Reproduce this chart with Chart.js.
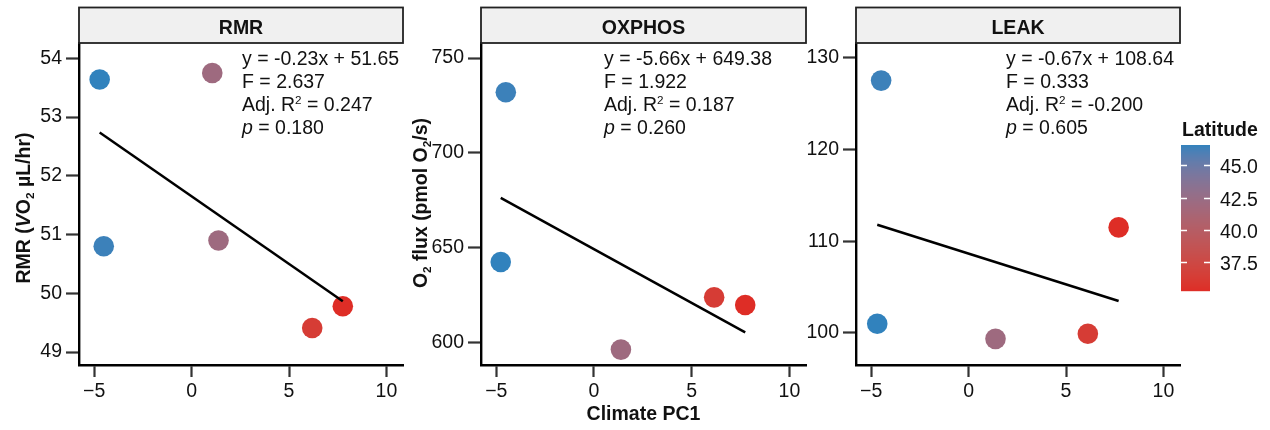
<!DOCTYPE html>
<html>
<head>
<meta charset="utf-8">
<script src="https://cdn.jsdelivr.net/npm/chart.js@4.4.0/dist/chart.umd.min.js"></script>
<style>
  body { margin: 0; background: #fff; }
  #wrap { position: relative; width: 1270px; height: 430px; }
  #wrap canvas { position: absolute; left: 0; top: 0; }
</style>
</head>
<body>
<div id="wrap">
  <canvas id="c1" width="1270" height="430"></canvas>
  <canvas id="c2" width="1270" height="430"></canvas>
  <canvas id="c3" width="1270" height="430"></canvas>
  <canvas id="legend" width="1270" height="430"></canvas>
</div>
<script>
// ---- data ----
const panelNames = ['RMR', 'OXPHOS', 'LEAK'];

const rmrX = [-4.72, -4.51, 1.06, 1.38, 6.19, 7.76];
const rmrY = [53.64, 50.80, 53.75, 50.90, 49.41, 49.78];
const rmrLat = [46.6, 46.4, 42.0, 42.0, 36.3, 35.2];

const oxphosX = [-4.51, -4.77, 1.38, 6.15, 7.74];
const oxphosY = [732.0, 642.6, 596.5, 624.0, 620.0];
const oxphosLat = [46.4, 46.6, 42.0, 36.3, 35.2];

const leakX = [-4.49, -4.69, 1.38, 6.12, 7.70];
const leakY = [127.5, 101.0, 99.35, 99.9, 111.5];
const leakLat = [46.4, 46.6, 42.0, 36.3, 35.2];

// regression stats printed on each panel
const slopes = [-0.23, -5.66, -0.67];
const intercepts = [51.65, 649.38, 108.64];
const fStats = ['2.637', '1.922', '0.333'];
const adjR2 = ['0.247', '0.187', '-0.200'];
const pValues = ['0.180', '0.260', '0.605'];

// axis ticks
const xTicks = [-5, 0, 5, 10];
const rmrTicks = [49, 50, 51, 52, 53, 54];
const oxphosTicks = [600, 650, 700, 750];
const leakTicks = [100, 110, 120, 130];
const latTicks = [37.5, 40.0, 42.5, 45.0];

// ---- colour scale (ggplot-style Lab gradient) ----
const LOW = '#de2d26', HIGH = '#3182bd';
const allLat = rmrLat.concat(oxphosLat, leakLat);
const latMin = Math.min(...allLat), latMax = Math.max(...allLat);

function hexToRgb(h) {
    return [1, 3, 5].map(i => parseInt(h.substr(i, 2), 16));
}
function rgbToLab(rgb) {
    const lin = rgb.map(c => { c /= 255; return c <= 0.04045 ? c / 12.92 : Math.pow((c + 0.055) / 1.055, 2.4); });
    const X = (0.4124 * lin[0] + 0.3576 * lin[1] + 0.1805 * lin[2]) / 0.95047;
    const Y = 0.2126 * lin[0] + 0.7152 * lin[1] + 0.0722 * lin[2];
    const Z = (0.0193 * lin[0] + 0.1192 * lin[1] + 0.9505 * lin[2]) / 1.08883;
    const f = t => t > 0.008856 ? Math.cbrt(t) : 7.787 * t + 16 / 116;
    return [116 * f(Y) - 16, 500 * (f(X) - f(Y)), 200 * (f(Y) - f(Z))];
}
function labToRgb(lab) {
    const fy = (lab[0] + 16) / 116, fx = fy + lab[1] / 500, fz = fy - lab[2] / 200;
    const inv = t => t > 0.206893 ? t * t * t : (t - 16 / 116) / 7.787;
    const X = inv(fx) * 0.95047, Y = inv(fy), Z = inv(fz) * 1.08883;
    const r = 3.2406 * X - 1.5372 * Y - 0.4986 * Z;
    const g = -0.9689 * X + 1.8758 * Y + 0.0415 * Z;
    const b = 0.0557 * X - 0.2040 * Y + 1.0570 * Z;
    return [r, g, b].map(c => {
        c = c <= 0.0031308 ? 12.92 * c : 1.055 * Math.pow(c, 1 / 2.4) - 0.055;
        return Math.round(Math.max(0, Math.min(1, c)) * 255);
    });
}
const labLow = rgbToLab(hexToRgb(LOW)), labHigh = rgbToLab(hexToRgb(HIGH));
function latColor(lat) {
    const t = (lat - latMin) / (latMax - latMin);
    const c = labToRgb(labLow.map((v, i) => v + (labHigh[i] - v) * t));
    return `rgb(${c[0]},${c[1]},${c[2]})`;
}

// ---- drawing helpers ----
const FONT = "'Liberation Sans', Arial, Helvetica, sans-serif";
const SIZE = 19.5;
const INK = '#111';

function drawRich(ctx, segs, x, y, size, bold, align) {
    const fontFor = s => {
        const sz = (s.sup || s.sub) ? size * 0.6 : size;
        return (s.italic ? 'italic ' : '') + (bold ? 'bold ' : '') + sz + 'px ' + FONT;
    };
    let w = 0;
    segs.forEach(s => { ctx.font = fontFor(s); s.w = ctx.measureText(s.t).width; w += s.w; });
    let cx = align === 'center' ? x - w / 2 : x;
    ctx.textAlign = 'left';
    ctx.textBaseline = 'alphabetic';
    segs.forEach(s => {
        ctx.font = fontFor(s);
        const dy = s.sup ? -size * 0.36 : s.sub ? size * 0.22 : 0;
        ctx.fillText(s.t, cx, y + dy);
        cx += s.w;
    });
}

function statLines(i) {
    const sign = intercepts[i] < 0 ? ' - ' : ' + ';
    return [
        [{ t: `y = ${slopes[i].toFixed(2)}x${sign}${Math.abs(intercepts[i]).toFixed(2)}` }],
        [{ t: `F = ${fStats[i]}` }],
        [{ t: 'Adj. R' }, { t: '2', sup: true }, { t: ' = ' + adjR2[i] }],
        [{ t: 'p', italic: true }, { t: ' = ' + pValues[i] }]
    ];
}

const yTitles = [
    [{ t: 'RMR (' }, { t: 'V', italic: true }, { t: 'O' }, { t: '2', sub: true }, { t: ' \u00b5L/hr)' }],
    [{ t: 'O' }, { t: '2', sub: true }, { t: ' flux (pmol O' }, { t: '2', sub: true }, { t: '/s)' }],
    null
];

// ---- panel layout ----
const panels = [
    { canvas: 'c1', x: rmrX, y: rmrY, lat: rmrLat, ticks: rmrTicks, ymin: 48.78, ymax: 54.26,
      left: 79, right: 403, statX: 242, titleX: 29.5, titleY: 208 },
    { canvas: 'c2', x: oxphosX, y: oxphosY, lat: oxphosLat, ticks: oxphosTicks, ymin: 588.4, ymax: 757.9,
      left: 481, right: 806, statX: 604, titleX: 427, titleY: 203 },
    { canvas: 'c3', x: leakX, y: leakY, lat: leakLat, ticks: leakTicks, ymin: 96.5, ymax: 131.6,
      left: 856, right: 1180, statX: 1006, titleX: 0, titleY: 0 }
];
const TOP = 43, BOTTOM = 365, STRIP_TOP = 7.5, Y_AXIS_W = 60;

function makeDecor(i) {
    return {
        id: 'decor' + i,
        afterDraw(chart) {
            const ctx = chart.ctx, a = chart.chartArea;
            ctx.save();
            // facet strip
            ctx.fillStyle = '#f0f0f0';
            ctx.fillRect(a.left, STRIP_TOP, a.right - a.left, TOP - STRIP_TOP);
            ctx.strokeStyle = '#222';
            ctx.lineWidth = 1.8;
            ctx.strokeRect(a.left, STRIP_TOP, a.right - a.left, TOP - STRIP_TOP);
            ctx.fillStyle = INK;
            drawRich(ctx, [{ t: panelNames[i] }], (a.left + a.right) / 2, 33.5, SIZE, true, 'center');

            // regression stats
            statLines(i).forEach((line, k) => {
                drawRich(ctx, line, panels[i].statX, 65 + k * 23, SIZE, false, 'left');
            });

            // y-axis title
            if (yTitles[i]) {
                ctx.save();
                ctx.translate(panels[i].titleX, panels[i].titleY);
                ctx.rotate(-Math.PI / 2);
                drawRich(ctx, yTitles[i], 0, 0, SIZE, true, 'center');
                ctx.restore();
            }
            // shared x-axis title under the middle panel
            if (i === 1) {
                drawRich(ctx, [{ t: 'Climate PC1' }], (a.left + a.right) / 2, 420, SIZE, true, 'center');
            }
            ctx.restore();
        }
    };
}

function fmtX(v) {
    return v < 0 ? '\u2212' + Math.abs(v) : String(v);
}

panels.forEach((p, i) => {
    const pts = p.x.map((x, k) => ({ x: x, y: p.y[k] }));
    const x0 = Math.min(...p.x), x1 = Math.max(...p.x);
    const fit = [x0, x1].map(x => ({ x: x, y: slopes[i] * x + intercepts[i] }));

    new Chart(document.getElementById(p.canvas).getContext('2d'), {
        type: 'scatter',
        data: {
            datasets: [
                {
                    type: 'line',
                    data: fit,
                    borderColor: '#000',
                    borderWidth: 2.5,
                    pointRadius: 0,
                    fill: false,
                    order: 0
                },
                {
                    data: pts,
                    backgroundColor: p.lat.map(latColor),
                    pointRadius: 10.3,
                    borderWidth: 0,
                    order: 1
                }
            ]
        },
        options: {
            responsive: false,
            animation: false,
            devicePixelRatio: 1,
            layout: {
                padding: { left: p.left - Y_AXIS_W, right: 1270 - p.right, top: TOP, bottom: 0 }
            },
            plugins: {
                legend: { display: false },
                tooltip: { enabled: false }
            },
            scales: {
                x: {
                    type: 'linear',
                    min: -5.78,
                    max: 10.85,
                    afterBuildTicks: s => { s.ticks = xTicks.map(v => ({ value: v })); },
                    afterFit: s => { s.height = 430 - BOTTOM; },
                    ticks: {
                        callback: v => fmtX(v),
                        color: INK,
                        padding: 3,
                        maxRotation: 0,
                        font: { family: FONT, size: SIZE }
                    },
                    grid: {
                        drawOnChartArea: false,
                        tickLength: 12,
                        tickWidth: 2.2,
                        tickColor: '#333'
                    },
                    border: { display: true, color: '#000', width: 2.4 }
                },
                y: {
                    type: 'linear',
                    min: p.ymin,
                    max: p.ymax,
                    afterBuildTicks: s => { s.ticks = p.ticks.map(v => ({ value: v })); },
                    afterFit: s => { s.width = Y_AXIS_W; },
                    ticks: {
                        callback: v => String(v),
                        color: INK,
                        padding: 4,
                        font: { family: FONT, size: SIZE }
                    },
                    grid: {
                        drawOnChartArea: false,
                        tickLength: 13,
                        tickWidth: 2.2,
                        tickColor: '#333'
                    },
                    border: { display: true, color: '#000', width: 2.4 }
                }
            }
        },
        plugins: [makeDecor(i)]
    });
});

// ---- colour bar legend ----
(function drawLegend() {
    const ctx = document.getElementById('legend').getContext('2d');
    const bx = 1181, bw = 29, by = 145, bh = 146;
    const yOf = v => by + (latMax - v) / (latMax - latMin) * bh;
    for (let k = 0; k < bh; k++) {
        const v = latMax - (k + 0.5) / bh * (latMax - latMin);
        ctx.fillStyle = latColor(v);
        ctx.fillRect(bx, by + k, bw, 1.2);
    }
    ctx.fillStyle = INK;
    drawRich(ctx, [{ t: 'Latitude' }], bx + 1, 136, SIZE, true, 'left');
    ctx.strokeStyle = '#fff';
    ctx.lineWidth = 1.6;
    latTicks.forEach(v => {
        const y = Math.round(yOf(v)) + 0.5;
        ctx.beginPath();
        ctx.moveTo(bx, y); ctx.lineTo(bx + 6, y);
        ctx.moveTo(bx + bw - 6, y); ctx.lineTo(bx + bw, y);
        ctx.stroke();
        ctx.fillStyle = INK;
        drawRich(ctx, [{ t: v.toFixed(1) }], bx + 39, y + 7, SIZE, false, 'left');
    });
})();
</script>
</body>
</html>
